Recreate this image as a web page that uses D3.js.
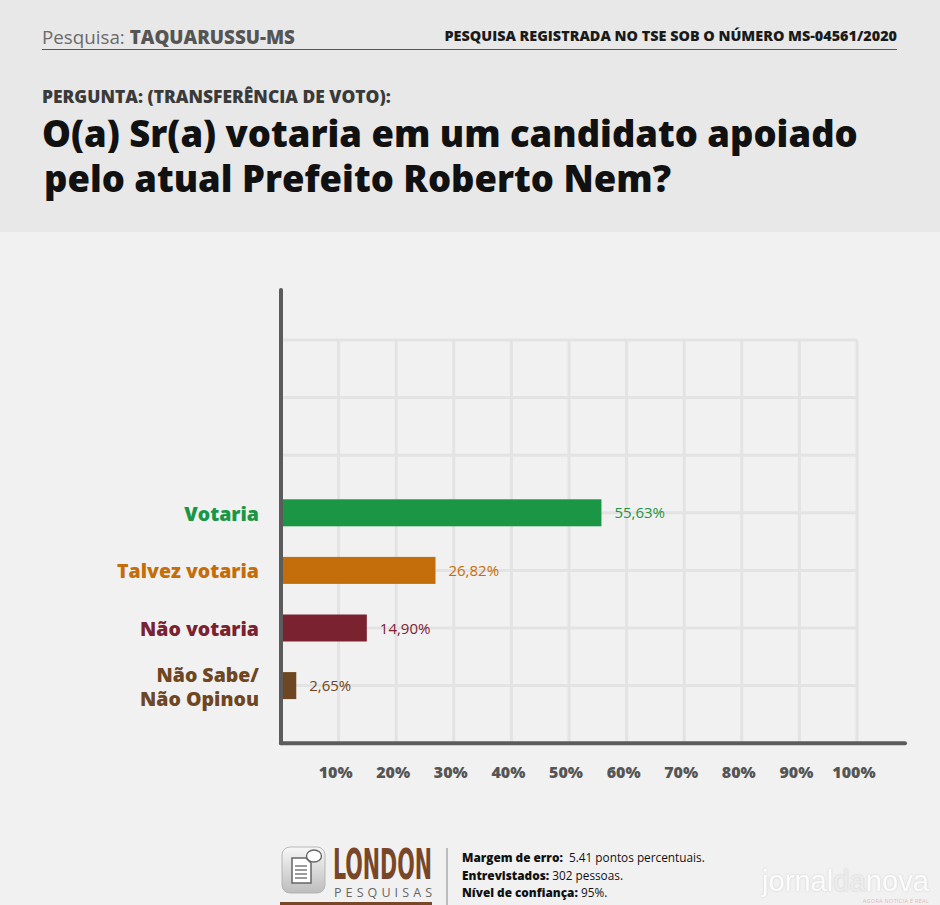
<!DOCTYPE html>
<html><head><meta charset="utf-8">
<script src="https://cdn.jsdelivr.net/npm/d3@7/dist/d3.min.js"></script>
<style>
html,body{margin:0;padding:0;background:#f1f1f1;}
svg{display:block;font-family:"Open Sans","Noto Sans",sans-serif;}
</style></head>
<body>
<script>
// ---- data ----
const categories = ["Votaria", "Talvez votaria", "Não votaria", "Não Sabe/\nNão Opinou"];
const values = [55.63, 26.82, 14.90, 2.65];
const valueLabels = ["55,63%", "26,82%", "14,90%", "2,65%"];
const colors = ["#1b9645", "#c46d0b", "#7b2231", "#6e4622"];
const xTicks = [10, 20, 30, 40, 50, 60, 70, 80, 90, 100];
const rowSlots = ["g0", "g1", "g2", "Votaria", "Talvez votaria", "Não votaria", "Não Sabe/\nNão Opinou", "axis"];
const footerLines = [["Margem de erro:", "  5.41 pontos percentuais."], ["Entrevistados:", " 302 pessoas."], ["Nível de confiança:", " 95%."]];

const W = 940, H = 905;
const svg = d3.select("body").append("svg").attr("width", W).attr("height", H);
const defs = svg.append("defs");

// backgrounds
svg.append("rect").attr("width", W).attr("height", H).attr("fill", "#f1f1f1");
svg.append("rect").attr("width", W).attr("height", 232).attr("fill", "#e8e8e8");

function fit(t, w) {
  const l = t.node().getComputedTextLength();
  const fs = parseFloat(t.attr("font-size"));
  t.attr("font-size", fs * w / l);
  return fs * w / l;
}

// header
const h1 = svg.append("text").attr("x", 42).attr("y", 44).attr("font-size", 17).attr("fill", "#6a6a6a");
h1.append("tspan").attr("font-weight", 400).text("Pesquisa: ");
h1.append("tspan").attr("font-weight", 800).attr("fill", "#555").text("TAQUARUSSU-MS");
fit(h1, 253);
const h2 = svg.append("text").attr("x", 897).attr("y", 41).attr("text-anchor", "end")
  .attr("font-size", 13).attr("font-weight", 800).attr("fill", "#1a1a1a")
  .text("PESQUISA REGISTRADA NO TSE SOB O NÚMERO MS-04561/2020");
fit(h2, 453);
svg.append("line").attr("x1", 42).attr("x2", 897).attr("y1", 49.5).attr("y2", 49.5)
  .attr("stroke", "#555").attr("stroke-width", 1.2);

const p = svg.append("text").attr("x", 42).attr("y", 103).attr("font-size", 15).attr("font-weight", 800)
  .attr("fill", "#3a3a3a").text("PERGUNTA: (TRANSFERÊNCIA DE VOTO):");
fit(p, 349);
const t1 = svg.append("text").attr("x", 42).attr("y", 147).attr("font-size", 34).attr("font-weight", 800)
  .attr("fill", "#111").text("O(a) Sr(a) votaria em um candidato apoiado");
const fsT = fit(t1, 816);
svg.append("text").attr("x", 44).attr("y", 192).attr("font-size", fsT).attr("font-weight", 800)
  .attr("fill", "#111").text("pelo atual Prefeito Roberto Nem?");

// scales
const x = d3.scaleLinear().domain([0, 100]).range([281, 857]);
const y = d3.scalePoint().domain(rowSlots).range([340, 743.2]);

// grid
const g = svg.append("g");
g.selectAll(".vg").data(xTicks).join("line")
  .attr("x1", d => x(d)).attr("x2", d => x(d)).attr("y1", y("g0")).attr("y2", y("axis"))
  .attr("stroke", "#e3e3e3").attr("stroke-width", 3);
g.selectAll(".hg").data(rowSlots.slice(0, -1)).join("line")
  .attr("x1", 281).attr("x2", x(100)).attr("y1", d => y(d)).attr("y2", d => y(d))
  .attr("stroke", "#e3e3e3").attr("stroke-width", 3);

// bars
const barH = 27;
const data = categories.map((c, i) => ({ c, v: values[i], lab: valueLabels[i], col: colors[i] }));
svg.selectAll(".bar").data(data).join("rect")
  .attr("x", x(0)).attr("y", d => y(d.c) - barH / 2)
  .attr("width", d => x(d.v) - x(0)).attr("height", barH).attr("fill", d => d.col);

svg.selectAll(".vl").data(data).join("text")
  .attr("x", d => x(d.v) + 13).attr("y", d => y(d.c) + 5.5)
  .attr("font-size", 15).attr("font-weight", 500).attr("fill", d => d.col).text(d => d.lab);

// category labels
data.forEach(d => {
  const lines = d.c.split("\n");
  const cy = y(d.c);
  const tx = svg.append("text").attr("text-anchor", "end").attr("font-size", 19.5)
    .attr("font-weight", 800).attr("fill", d.col);
  lines.forEach((ln, j) => {
    tx.append("tspan").attr("x", 259).attr("y", cy + 8 + (j - (lines.length - 1) / 2) * 24).text(ln);
  });
});

// axes
svg.append("line").attr("x1", 281).attr("x2", 281).attr("y1", 290).attr("y2", y("axis"))
  .attr("stroke", "#5b5b5b").attr("stroke-width", 4).attr("stroke-linecap", "round");
svg.append("line").attr("x1", 281).attr("x2", 905).attr("y1", y("axis")).attr("y2", y("axis"))
  .attr("stroke", "#5b5b5b").attr("stroke-width", 4).attr("stroke-linecap", "round");

svg.selectAll(".xt").data(xTicks).join("text")
  .attr("x", d => x(d) - 3).attr("y", 778).attr("text-anchor", "middle")
  .attr("font-size", 16).attr("font-weight", 800).attr("fill", "#555").text(d => d + "%");

// footer logo
const lg = svg.append("g");
const grad = defs.append("linearGradient").attr("id", "ig").attr("x1", 0).attr("y1", 0).attr("x2", 0).attr("y2", 1);
grad.append("stop").attr("offset", "0%").attr("stop-color", "#f7f7f7");
grad.append("stop").attr("offset", "100%").attr("stop-color", "#bdbdbd");
lg.append("rect").attr("x", 282).attr("y", 847).attr("width", 43).attr("height", 46).attr("rx", 8)
  .attr("fill", "url(#ig)").attr("stroke", "#aaa").attr("stroke-width", 0.8);
lg.append("path").attr("d", "M292 858 h14 l5 5 v20 h-19 z").attr("fill", "#fff").attr("stroke", "#666").attr("stroke-width", 1.5);
[866, 870, 874, 878].forEach(yy => lg.append("line").attr("x1", 295).attr("x2", 307).attr("y1", yy).attr("y2", yy).attr("stroke", "#666").attr("stroke-width", 1.3));
lg.append("ellipse").attr("cx", 314).attr("cy", 856).attr("rx", 7.5).attr("ry", 6).attr("fill", "#fff").attr("stroke", "#666").attr("stroke-width", 1.4);
lg.append("text").attr("x", 333).attr("y", 879).attr("font-family", "'Liberation Sans Narrow','DejaVu Sans Condensed',sans-serif")
  .attr("font-size", 42).attr("font-weight", 700).attr("fill", "#7a4628")
  .attr("textLength", 99).attr("lengthAdjust", "spacingAndGlyphs").text("LONDON");
lg.append("text").attr("x", 334).attr("y", 897).attr("font-size", 12.5).attr("fill", "#666")
  .attr("textLength", 98).attr("lengthAdjust", "spacing").text("PESQUISAS");
lg.append("rect").attr("x", 280).attr("y", 902).attr("width", 152).attr("height", 4).attr("fill", "#7a4628");
svg.append("line").attr("x1", 447).attr("x2", 447).attr("y1", 848).attr("y2", 905).attr("stroke", "#888").attr("stroke-width", 1);

footerLines.forEach((ln, i) => {
  const t = svg.append("text").attr("x", 462).attr("y", 862 + i * 17.5).attr("font-size", 11.8).attr("fill", "#111");
  t.append("tspan").attr("font-weight", 800).text(ln[0]);
  t.append("tspan").attr("font-weight", 400).attr("xml:space", "preserve").text(ln[1]);
});

// watermark
const sh = defs.append("filter").attr("id", "wsh").attr("x", "-10%").attr("y", "-30%").attr("width", "120%").attr("height", "160%");
sh.append("feDropShadow").attr("dx", 0).attr("dy", 0).attr("stdDeviation", 1.2).attr("flood-color", "#bdbdbd").attr("flood-opacity", 0.7);
const wm = svg.append("text").attr("x", 762).attr("y", 891).attr("font-size", 30).attr("font-weight", 400)
  .attr("font-family", "'Liberation Sans',Arial,sans-serif").attr("fill", "#fcfcfc")
  .attr("filter", "url(#wsh)")
  .attr("textLength", 167).attr("lengthAdjust", "spacingAndGlyphs");
wm.append("tspan").text("jornal");
wm.append("tspan").attr("fill", "#ececec").text("da");
wm.append("tspan").text("nova");
svg.append("text").attr("x", 929).attr("y", 903).attr("text-anchor", "end").attr("font-size", 5.5)
  .attr("fill", "#e6b8b8").attr("letter-spacing", 0.3).text("AGORA NOTÍCIA É REAL");
</script>
</body></html>
